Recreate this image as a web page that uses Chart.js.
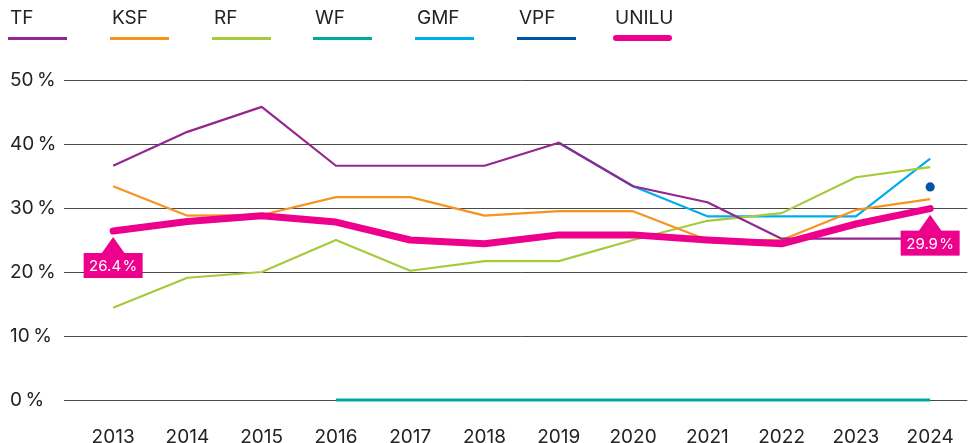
<!DOCTYPE html>
<html>
<head>
<meta charset="utf-8">
<script src="https://cdn.jsdelivr.net/npm/chart.js@4.4.1/dist/chart.umd.min.js"></script>
<style>
  body { margin: 0; background: #fff; }
  #wrap { position: relative; width: 973px; height: 443px; font-family: Inter, "Liberation Sans", sans-serif; }
  #legend { position: absolute; left: 0; top: 0; width: 973px; height: 50px; }
  .item { position: absolute; top: 7px; font-size: 19px; color: #222; }
  .item span { display: block; line-height: 22px; }
  .item i { display: block; width: 59px; margin-top: 8px; }
</style>
</head>
<body>
<div id="wrap">
  <canvas id="chart" width="973" height="443"></canvas>
  <div id="legend"></div>
</div>
<script>
const years = ['2013', '2014', '2015', '2016', '2017', '2018', '2019', '2020', '2021', '2022', '2023', '2024'];
const tf = [36.6, 41.9, 45.8, 36.6, 36.6, 36.6, 40.2, 33.4, 30.9, 25.2, 25.2, 25.2];
const ksf = [33.4, 28.8, 28.9, 31.7, 31.7, 28.8, 29.5, 29.5, 25.0, 25.0, 29.7, 31.4];
const rf = [14.4, 19.1, 20.0, 25.0, 20.2, 21.7, 21.7, 25.0, 28.0, 29.2, 34.8, 36.4];
const wf = [null, null, null, 0, 0, 0, 0, 0, 0, 0, 0, 0];
const gmf = [null, null, null, null, null, null, 40.2, 33.4, 28.7, 28.7, 28.7, 37.7];
const vpf = [null, null, null, null, null, null, null, null, null, null, null, 33.3];
const unilu = [26.4, 27.9, 28.8, 27.8, 25.0, 24.4, 25.8, 25.8, 25.0, 24.4, 27.5, 29.9];
const yTicks = [0, 10, 20, 30, 40, 50];

const names = ['TF', 'KSF', 'RF', 'WF', 'GMF', 'VPF', 'UNILU'];
const colors = ['#93278f', '#f7931e', '#a6ca3c', '#00a99d', '#00aeef', '#0054a6', '#ec008c'];
const seriesData = [tf, ksf, rf, wf, gmf, vpf, unilu];

// legend: label above a short coloured line
const legend = document.getElementById('legend');
const legendX = [8, 110, 212, 313, 415, 517, 613];
names.forEach((n, i) => {
  const d = document.createElement('div');
  d.className = 'item';
  d.style.left = legendX[i] + 'px';
  const thick = n === 'UNILU' ? 6 : 3;
  d.innerHTML = `<span style="padding-left:2px">${n}</span><i style="height:${thick}px;background:${colors[i]};border-radius:${n === 'UNILU' ? 3 : 0}px;margin-top:${n === 'UNILU' ? 6 : 8}px"></i>`;
  legend.appendChild(d);
});

const fmt = (v) => v.toFixed(1) + '\u200A%';

// pink callouts under first and last UNILU point
const callouts = {
  id: 'callouts',
  afterDatasetsDraw(chart) {
    const ctx = chart.ctx;
    const idx = names.indexOf('UNILU');
    const meta = chart.getDatasetMeta(idx);
    [0, unilu.length - 1].forEach((k) => {
      const p = meta.data[k];
      const x = p.x, y = p.y;
      const w = 59, h = 25, top = y + 22;
      ctx.save();
      ctx.fillStyle = colors[idx];
      ctx.beginPath();
      ctx.moveTo(x, y + 6);
      ctx.lineTo(x + 12, top + 1);
      ctx.lineTo(x - 12, top + 1);
      ctx.closePath();
      ctx.fill();
      ctx.fillRect(x - w / 2, top, w, h);
      ctx.fillStyle = '#fff';
      ctx.font = '15px Inter, "Liberation Sans", sans-serif';
      ctx.textAlign = 'center';
      ctx.textBaseline = 'middle';
      ctx.fillText(fmt(unilu[k]), x, top + h / 2 + 1);
      ctx.restore();
    });
  }
};

const datasets = names.map((n, i) => ({
  label: n,
  data: seriesData[i],
  borderColor: colors[i],
  backgroundColor: colors[i],
  borderWidth: n === 'UNILU' ? 7 : (n === 'WF' ? 3 : 2.2),
  pointRadius: n === 'VPF' ? 3.5 : 0,
  pointHoverRadius: 0,
  borderCapStyle: n === 'UNILU' ? 'round' : 'butt',
  borderJoinStyle: 'round',
  tension: 0,
  spanGaps: false,
  clip: 8,
  order: n === 'UNILU' ? 0 : i + 1,
}));

new Chart(document.getElementById('chart'), {
  type: 'line',
  data: { labels: years, datasets },
  plugins: [callouts],
  options: {
    responsive: false,
    animation: false,
    events: [],
    layout: { padding: { top: 80, left: 10, right: 4, bottom: 0 } },
    plugins: { legend: { display: false }, tooltip: { enabled: false } },
    scales: {
      x: {
        offset: true,
        grid: { display: false, drawTicks: false },
        border: { display: false },
        ticks: { color: '#222', padding: 26, font: { family: 'Inter', size: 19 } },
        afterFit: (s) => { s.height = 43; s.paddingLeft = 0; s.paddingRight = 0; },
      },
      y: {
        min: 0,
        max: 50,
        afterBuildTicks: (s) => { s.ticks = yTicks.map((v) => ({ value: v })); },
        grid: { color: '#4a4a4a', lineWidth: 1, tickLength: 12, drawTicks: true },
        border: { display: false },
        ticks: {
          color: '#222',
          crossAlign: 'far',
          font: { family: 'Inter', size: 19 },
          callback: (v) => v + '\u2009%',
        },
        afterFit: (s) => { s.width = 66; },
      },
    },
  },
});
</script>
</body>
</html>
